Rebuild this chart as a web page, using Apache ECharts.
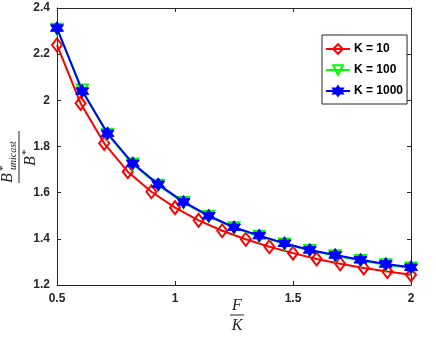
<!DOCTYPE html>
<html>
<head>
<meta charset="utf-8">
<script src="https://cdn.jsdelivr.net/npm/echarts@6/dist/echarts.min.js"></script>
<style>
  html, body { margin: 0; padding: 0; background: #fff; }
  #main { width: 436px; height: 339px; }
</style>
</head>
<body>
<div id="main"></div>
<script>
// K = 10 sampled every 0.1, K = 100 / 1000 on 15 points
const xK10 = [0.5, 0.6, 0.7, 0.8, 0.9, 1.0, 1.1, 1.2, 1.3, 1.4, 1.5, 1.6, 1.7, 1.8, 1.9, 2.0]
const yK10 = [2.240, 1.987, 1.814, 1.691, 1.604, 1.535, 1.480, 1.435, 1.398, 1.366, 1.338, 1.313, 1.292, 1.274, 1.258, 1.244]

const xK100 = [0.5, 0.607, 0.714, 0.821, 0.929, 1.036, 1.143, 1.25, 1.357, 1.464, 1.571, 1.679, 1.786, 1.893, 2.0]
const yK100 = [2.308, 2.045, 1.853, 1.724, 1.632, 1.557, 1.497, 1.448, 1.411, 1.378, 1.350, 1.327, 1.306, 1.288, 1.274]
const yK1000 = [2.313, 2.040, 1.857, 1.727, 1.636, 1.560, 1.500, 1.450, 1.414, 1.381, 1.352, 1.330, 1.309, 1.291, 1.277]

const names = ['K = 10', 'K = 100', 'K = 1000']
const xTicks = [0.5, 1, 1.5, 2]
const yTicks = [1.2, 1.4, 1.6, 1.8, 2, 2.2, 2.4]

const axisColor = '#262626'
const labelFont = { color: axisColor, fontFamily: 'Liberation Sans', fontWeight: 'bold', fontSize: 12 }
const hexagram = 'path://M0,-10 L2.887,-5 L8.66,-5 L5.774,0 L8.66,5 L2.887,5 L0,10 L-2.887,5 L-8.66,5 L-5.774,0 L-8.66,-5 L-2.887,-5 Z'

const pairs = (xs, ys) => xs.map((x, i) => [x, ys[i]])

var myChart = echarts.init(document.getElementById('main'))

const baseAxis = (min, max, interval, position, showLabel, margin, fmt) => ({
  type: 'value',
  min, max, interval, position,
  axisLine: { show: true, onZero: false, lineStyle: { color: axisColor, width: 1 } },
  axisTick: { show: true, inside: true, length: 4, lineStyle: { color: axisColor } },
  axisLabel: { show: showLabel, margin, formatter: fmt, ...labelFont },
  splitLine: { show: false }
})

const serif = '"Liberation Serif", "DejaVu Serif", serif'
const txt = (x, y, text, font, align, valign) => ({
  type: 'text', x, y,
  style: { text, font, fill: axisColor, textAlign: align, align, textVerticalAlign: valign, verticalAlign: valign }
})

var option = {
  animation: false,
  backgroundColor: '#fff',
  grid: { left: 57, right: 25, top: 8, bottom: 54, outerBoundsMode: 'none' },
  xAxis: [
    baseAxis(xTicks[0], xTicks[xTicks.length - 1], 0.5, 'bottom', true, 8, v => String(+v.toFixed(1))),
    baseAxis(xTicks[0], xTicks[xTicks.length - 1], 0.5, 'top', false, 8)
  ],
  yAxis: [
    baseAxis(yTicks[0], yTicks[yTicks.length - 1], 0.2, 'left', true, 7, v => String(+v.toFixed(1))),
    baseAxis(yTicks[0], yTicks[yTicks.length - 1], 0.2, 'right', false, 7)
  ],
  legend: {
    orient: 'vertical',
    left: 322,
    top: 35,
    padding: [8, 4, 7, 3],
    itemGap: 9,
    itemWidth: 24,
    itemHeight: 12,
    backgroundColor: '#fff',
    borderColor: axisColor,
    borderWidth: 1,
    borderRadius: 0,
    textStyle: { ...labelFont, color: '#000', padding: [0, 0, 0, -1] },
    data: names
  },
  series: [
    {
      name: names[0], type: 'line', data: pairs(xK10, yK10),
      symbol: 'diamond', symbolSize: [10, 13],
      lineStyle: { color: '#ff0000', width: 2 },
      itemStyle: { color: 'transparent', borderColor: '#ff0000', borderWidth: 2 },
      emphasis: { disabled: true }, z: 2
    },
    {
      name: names[1], type: 'line', data: pairs(xK100, yK100),
      symbol: 'triangle', symbolRotate: 180, symbolSize: 11,
      lineStyle: { color: '#00ff00', width: 2 },
      itemStyle: { color: 'transparent', borderColor: '#00ff00', borderWidth: 2 },
      emphasis: { disabled: true }, z: 3
    },
    {
      name: names[2], type: 'line', data: pairs(xK100, yK1000),
      symbol: hexagram, symbolSize: 13,
      lineStyle: { color: '#0000ff', width: 2 },
      itemStyle: { color: '#0000ff', borderColor: '#0000ff', borderWidth: 1 },
      emphasis: { disabled: true }, z: 4
    }
  ],
  graphic: [
    {
      // y label: B*_unicast / B*
      type: 'group', x: 19, y: 157, rotation: Math.PI / 2,
      children: [
        { type: 'line', shape: { x1: -26, y1: 0, x2: 26, y2: 0 }, style: { stroke: axisColor, lineWidth: 1 } },
        txt(-26, -3, 'B', 'italic 16px ' + serif, 'left', 'bottom'),
        txt(-14, -10, '*', '11px ' + serif, 'left', 'bottom'),
        txt(-13, -1, 'unicast', 'italic 10px ' + serif, 'left', 'bottom'),
        txt(-9, 4, 'B', 'italic 16px ' + serif, 'left', 'top'),
        txt(2, 2, '*', '11px ' + serif, 'left', 'top')
      ]
    },
    {
      // x label: F / K
      type: 'group', x: 237, y: 315,
      children: [
        { type: 'line', shape: { x1: -7, y1: 0, x2: 7, y2: 0 }, style: { stroke: axisColor, lineWidth: 1 } },
        txt(0, -1, 'F', 'italic 16px ' + serif, 'center', 'bottom'),
        txt(0, 3, 'K', 'italic 16px ' + serif, 'center', 'top')
      ]
    }
  ]
}

myChart.setOption(option)
</script>
</body>
</html>
